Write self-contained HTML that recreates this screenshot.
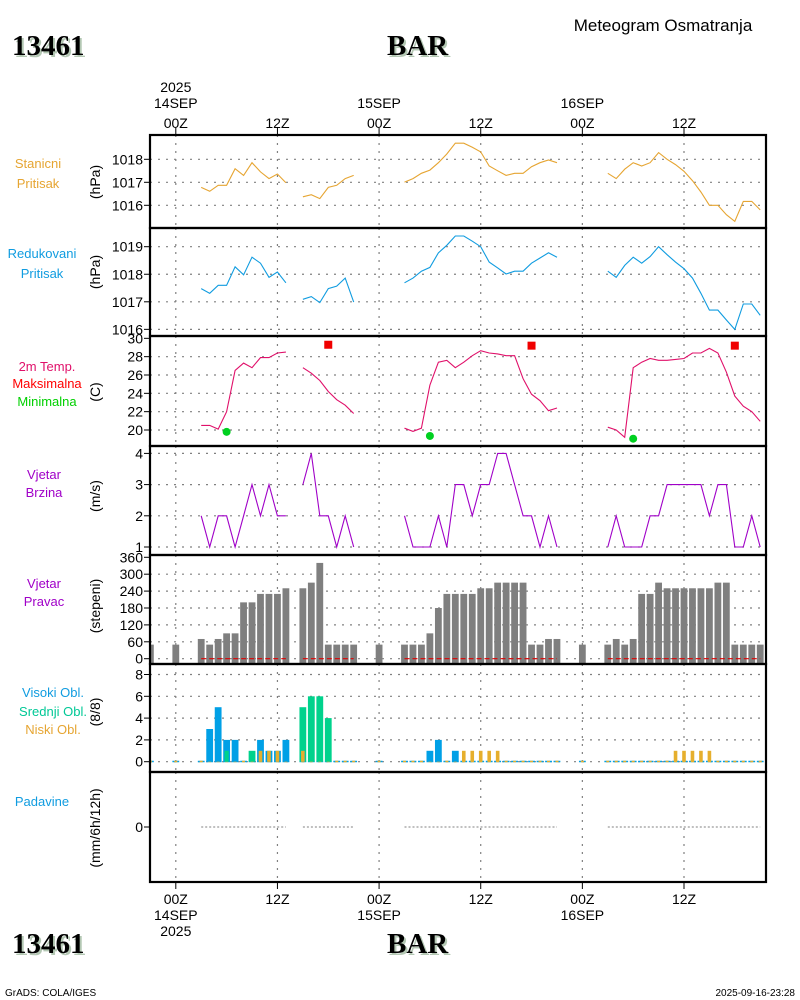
<!DOCTYPE html>
<html><head><meta charset="utf-8"><title>Meteogram</title>
<style>
html,body{margin:0;padding:0;background:#fff;}
svg{display:block;font-family:"Liberation Sans",sans-serif;}
.t{font-size:14px;fill:#000;}
.lab{font-size:13px;text-anchor:middle;}
.ttl{font-family:"Liberation Serif",serif;font-weight:bold;font-size:29px;}
</style></head>
<body>
<svg id="chart" width="800" height="1000" viewBox="0 0 800 1000" xmlns="http://www.w3.org/2000/svg">
<g id="static">
<text x="663" y="31" text-anchor="middle" style="font-size:17px">Meteogram Osmatranja</text>
<g><text class="ttl" x="14" y="57" fill="#b4c8b4">13461</text><text class="ttl" x="12" y="55">13461</text></g>
<g><text class="ttl" x="389" y="57" fill="#b4c8b4">BAR</text><text class="ttl" x="387" y="55">BAR</text></g>
<g><text class="ttl" x="14" y="955" fill="#b4c8b4">13461</text><text class="ttl" x="12" y="953">13461</text></g>
<g><text class="ttl" x="389" y="955" fill="#b4c8b4">BAR</text><text class="ttl" x="387" y="953">BAR</text></g>
<text x="5" y="996" style="font-size:10px">GrADS: COLA/IGES</text>
<text x="795" y="996" text-anchor="end" style="font-size:10px">2025-09-16-23:28</text>

<text class="lab" x="38" y="168" fill="#e6a532"><tspan x="38">Stanicni</tspan><tspan x="38" dy="20">Pritisak</tspan></text>
<text class="lab" x="42" y="258" fill="#109ce0"><tspan x="42">Redukovani</tspan><tspan x="42" dy="20">Pritisak</tspan></text>
<text class="lab" x="47" y="371" fill="#e0106a">2m Temp.</text>
<text class="lab" x="47" y="388" fill="#ff0000">Maksimalna</text>
<text class="lab" x="47" y="406" fill="#00d000">Minimalna</text>
<text class="lab" x="44" y="479" fill="#a000c8"><tspan x="44">Vjetar</tspan><tspan x="44" dy="18">Brzina</tspan></text>
<text class="lab" x="44" y="588" fill="#a000c8"><tspan x="44">Vjetar</tspan><tspan x="44" dy="18">Pravac</tspan></text>
<text class="lab" x="53" y="697" fill="#109ce0">Visoki Obl.</text>
<text class="lab" x="53" y="716" fill="#00c896">Srednji Obl.</text>
<text class="lab" x="53" y="734" fill="#e6a532">Niski Obl.</text>
<text class="lab" x="42" y="806" fill="#109ce0">Padavine</text>
</g>
<g id="dyn"></g>
</svg>
<script>
// ---- data ----
const hours = [3,4,5,6,7,8,9,10,11,12,13, 15,16,17,18,19,20,21, 27,28,29,30,31,32,33,34,35,36,37,38,39,40,41,42,43,44,45, 51,52,53,54,55,56,57,58,59,60,61,62,63,64,65,66,67,68,69];
const stationPressure = [1016.78,1016.61,1016.87,1016.87,1017.59,1017.30,1017.85,1017.45,1017.16,1017.36,1016.98,
 1016.37,1016.46,1016.29,1016.78,1016.87,1017.16,1017.30,
 1017.01,1017.16,1017.39,1017.53,1017.85,1018.23,1018.70,1018.70,1018.52,1018.32,1017.71,1017.50,1017.30,1017.39,1017.39,1017.68,1017.85,1017.97,1017.85,
 1017.39,1017.16,1017.57,1017.85,1017.71,1017.85,1018.29,1018.0,1017.77,1017.48,1017.07,1016.58,1016.0,1016.0,1015.59,1015.30,1016.17,1016.17,1015.80];
const reducedPressure = [1017.48,1017.31,1017.60,1017.60,1018.27,1017.98,1018.62,1018.40,1017.89,1018.08,1017.69,
 1017.09,1017.19,1016.97,1017.48,1017.57,1017.86,1016.99,
 1017.69,1017.86,1018.11,1018.25,1018.78,1019.05,1019.39,1019.39,1019.20,1019.0,1018.44,1018.23,1018.01,1018.11,1018.11,1018.40,1018.59,1018.78,1018.62,
 1018.11,1017.89,1018.32,1018.62,1018.40,1018.64,1019.0,1018.71,1018.44,1018.20,1017.86,1017.31,1016.70,1016.70,1016.34,1016.0,1016.92,1016.92,1016.51];
const temperature = [20.5,20.5,20.1,22.0,26.5,27.3,26.8,27.9,27.9,28.4,28.5,
 26.8,26.2,25.4,24.2,23.3,22.7,21.8,
 20.2,19.85,20.2,24.9,27.4,27.6,26.8,27.4,28.1,28.65,28.4,28.3,28.1,28.1,25.6,23.9,23.2,22.1,22.4,
 20.3,20.0,19.2,26.8,27.4,27.8,27.6,27.6,27.7,27.8,28.4,28.4,28.9,28.4,26.3,23.7,22.6,22.0,20.95];
const windSpeed = [2,1,2,2,1,2,3,2,3,2,2,
 3,4,2,2,1,2,1,
 2,1,1,1,2,1,3,3,2,3,3,4,4,3,2,2,1,2,1,
 1,2,1,1,1,2,2,3,3,3,3,3,2,3,3,1,1,2,1];
const dirHours = [-3,0,3,4,5,6,7,8,9,10,11,12,13, 15,16,17,18,19,20,21, 24, 27,28,29,30,31,32,33,34,35,36,37,38,39,40,41,42,43,44,45, 48, 51,52,53,54,55,56,57,58,59,60,61,62,63,64,65,66,67,68,69];
const windDir = [50,50, 70,50,70,90,90,200,200,230,230,230,250,
 250,270,340,50,50,50,50, 50,
 50,50,50,90,180,230,230,230,230,250,250,270,270,270,270,50,50,70,70, 50,
 50,70,50,70,230,230,270,250,250,250,250,250,250,270,270,50,50,50,50];
const highCloud = [0,3,5,2,2,0,0,2,1,1,2, 1,0,0,0,0,0,0,
 0,0,0,1,2,0,1,0,0,0,0,0,0,0,0,0,0,0,0, 0,0,0,0,0,0,0,0,0,0,0,0,0,0,0,0,0,0,0];
const midCloud = [0,0,0,1,0,0,1,0,0,0,0, 5,6,6,4,0,0,0,
 0,0,0,0,0,0,0,0,0,0,0,0,0,0,0,0,0,0,0, 0,0,0,0,0,0,0,0,0,0,0,0,0,0,0,0,0,0,0];
const lowCloud = [0,0,0,0,0,0,0,1,1,1,0, 1,0,0,0,0,0,0,
 0,0,0,0,0,0,0,1,1,1,1,1,0,0,0,0,0,0,0, 0,0,0,0,0,0,0,0,1,1,1,1,1,0,0,0,0,0,0];
const maxHours = [18,42,66];
const maxTemp = [29.3,29.2,29.2];
const minHours = [6,30,54];
const minTemp = [19.8,19.35,19.05];
const precip = hours.map(()=>0);
const timeTickHours = [0,12,24,36,48,60];
const timeTickLabels = ["00Z","12Z","00Z","12Z","00Z","12Z"];
const dayLabels = ["14SEP","","15SEP","","16SEP",""];
const spTicks = [1018,1017,1016];
const rpTicks = [1019,1018,1017,1016];
const tTicks = [30,28,26,24,22,20];
const wsTicks = [4,3,2,1];
const wdTicks = [360,300,240,180,120,60,0];
const clTicks = [8,6,4,2,0];

// ---- scales ----
const X0=150, X1=766;
const x = h => 175.8 + h*8.47;
const ySP = v => 159.3 + (1018 - v)*23;
const yRP = v => 246.7 + (1019 - v)*27.55;
const yT = v => 430 - (v-20)*9.167;
const yWS = v => 547 - (v-1)*31.2;
const yWD = v => 658.7 - v*0.2817;
const yCL = v => 761.7 - v*10.9;
const yPR = v => 827 - v*10;
const panels = [[135,228],[228,336],[336,446],[446,555],[555,664],[664,772],[772,882]];

const NS="http://www.w3.org/2000/svg";
const g=document.getElementById('dyn');
function mk(tag, attrs, parent){const e=document.createElementNS(NS,tag);for(const k in attrs)e.setAttribute(k,attrs[k]);(parent||g).appendChild(e);return e;}

const defs=mk('defs',{});
const cp=mk('clipPath',{id:'plotclip'},defs);
mk('rect',{x:X0,y:135,width:X1-X0,height:747},cp);

panels.forEach(([a,b])=>{
  timeTickHours.forEach(h=>{
    const l=mk('line',{x1:x(h),x2:x(h),y1:a,y2:b,stroke:'#808080','stroke-width':1.2,'stroke-dasharray':'2,6'});
    
    
  });
});
function hgrid(ticks, yf, name, skipTop){
  ticks.forEach(v=>{
    if(skipTop && v===ticks[0]) return;
    const l=mk('line',{x1:X0,x2:X1,y1:yf(v),y2:yf(v),stroke:'#808080','stroke-width':1.2,'stroke-dasharray':'2,6'});
    
    
  });
}
hgrid(spTicks,ySP,'station-pressure');
hgrid(rpTicks,yRP,'reduced-pressure');
hgrid(tTicks,yT,'temperature',true);
hgrid(wsTicks,yWS,'wind-speed');
hgrid(wdTicks,yWD,'wind-direction',true);
hgrid(clTicks,yCL,'cloud');

function yticks(ticks, yf, name){
  ticks.forEach(v=>{
    const t=mk('text',{x:143,y:yf(v)+5,'text-anchor':'end',class:'t'});
    t.textContent=String(v);
    
    
    mk('line',{x1:144,x2:150,y1:yf(v),y2:yf(v),stroke:'#000','stroke-width':1});
  });
}
yticks(spTicks,ySP,'station-pressure');
yticks(rpTicks,yRP,'reduced-pressure');
yticks(tTicks,yT,'temperature');
yticks(wsTicks,yWS,'wind-speed');
yticks(wdTicks,yWD,'wind-direction');
yticks(clTicks,yCL,'cloud');
yticks([0],yPR,'precip');

function ytitle(txt,cy,name){
  const t=mk('text',{x:0,y:0,class:'t','text-anchor':'middle',transform:`translate(100,${cy}) rotate(-90)`});
  t.textContent=txt;
  
  
}
ytitle('(hPa)',182,'station-pressure-axis-title');
ytitle('(hPa)',272,'reduced-pressure-axis-title');
ytitle('(C)',392,'temperature-axis-title');
ytitle('(m/s)',496,'wind-speed-axis-title');
ytitle('(stepeni)',606,'wind-direction-axis-title');
ytitle('(8/8)',712,'cloud-axis-title');
ytitle('(mm/6h/12h)',828,'precip-axis-title');

timeTickHours.forEach((h,i)=>{
  mk('line',{x1:x(h),x2:x(h),y1:128,y2:135,stroke:'#000'});
  mk('line',{x1:x(h),x2:x(h),y1:882,y2:889,stroke:'#000'});
  const t=mk('text',{x:x(h),y:128,'text-anchor':'middle',class:'t'});
  t.textContent=timeTickLabels[i];
  
  
  const b=mk('text',{x:x(h),y:904,'text-anchor':'middle',class:'t'});
  b.textContent=timeTickLabels[i];
  
  
  if(dayLabels[i]){
    const d=mk('text',{x:x(h),y:108,'text-anchor':'middle',class:'t'});
    d.textContent=dayLabels[i];
    
    
    const d2=mk('text',{x:x(h),y:920,'text-anchor':'middle',class:'t'});
    d2.textContent=dayLabels[i];
    
    
  }
});
const yr1=mk('text',{x:x(0),y:92,'text-anchor':'middle',class:'t'});yr1.textContent='2025';


const yr2=mk('text',{x:x(0),y:936,'text-anchor':'middle',class:'t'});yr2.textContent='2025';



const plot=mk('g',{'clip-path':'url(#plotclip)'});

dirHours.forEach((h,i)=>{
  const r=mk('rect',{x:x(h)-3.4,y:yWD(windDir[i]),width:6.8,height:664-yWD(windDir[i]),fill:'#7f7f7f'},plot);
  
  
});

function segments(){
  const segs=[];let cur=[];
  hours.forEach((h,i)=>{ if(cur.length && h-hours[cur[cur.length-1]]>1){segs.push(cur);cur=[];} cur.push(i);});
  if(cur.length)segs.push(cur);return segs;
}
const segs=segments();
function drawLine(vals,yf,color,name,w){
  segs.forEach(s=>{
    const d=s.map((i,k)=>(k?'L':'M')+x(hours[i]).toFixed(1)+','+yf(vals[i]).toFixed(1)).join(' ');
    const p=mk('path',{d:d,fill:'none',stroke:color,'stroke-width':w||1.1},plot);
    
    
  });
}
segs.forEach(s=>{
  const l=mk('line',{x1:x(hours[s[0]]),x2:x(hours[s[s.length-1]]),y1:658.7,y2:658.7,stroke:'#e00000','stroke-width':1.2,'stroke-dasharray':'5,3'},plot);
  
  
});
drawLine(stationPressure,ySP,'#e6a532','station-pressure-line');
drawLine(reducedPressure,yRP,'#109ce0','reduced-pressure-line');
drawLine(temperature,yT,'#e0106a','temperature-line');
drawLine(windSpeed,yWS,'#a000c8','wind-speed-line');
segs.forEach(s=>{
  const d=s.map((i,k)=>(k?'L':'M')+x(hours[i]).toFixed(1)+','+yPR(precip[i]).toFixed(1)).join(' ');
  const p=mk('path',{d:d,fill:'none',stroke:'#808080','stroke-width':1,'stroke-dasharray':'2,2'},plot);
  
  
});

maxHours.forEach((h,i)=>{
  const r=mk('rect',{x:x(h)-4,y:yT(maxTemp[i])-4,width:8,height:8,fill:'#f00000'},plot);
  
  
});
minHours.forEach((h,i)=>{
  const c=mk('circle',{cx:x(h),cy:yT(minTemp[i]),r:4,fill:'#00d020'},plot);
  
  
});

const cloudCols={high:'#00a0e6',mid:'#00d28c',low:'#e6af2d'};
dirHours.forEach(h=>{
  mk('line',{x1:x(h)-3.4,x2:x(h)+3.4,y1:761.5,y2:761.5,stroke:'#00a0e6','stroke-width':1.5},plot);
  mk('line',{x1:x(h)-1.5,x2:x(h)+1.5,y1:761.5,y2:761.5,stroke:'#e6af2d','stroke-width':1.5},plot);
});
hours.forEach((h,i)=>{
  const items=[['high',highCloud[i]],['mid',midCloud[i]],['low',lowCloud[i]]].filter(a=>a[1]>0).sort((a,b)=>b[1]-a[1]);
  items.forEach((it,k)=>{
    let w = it[0]==='low' ? 3.6 : (k===0 ? 6.8 : 4.2);
    if(it[0]!=='low' && k>0 && items[0][1]===it[1]) w=6.8;
    const r=mk('rect',{x:x(h)-w/2,y:yCL(it[1]),width:w,height:761.7-yCL(it[1]),fill:cloudCols[it[0]]},plot);
    
    
  });
});

panels.forEach(([a,b],i)=>{
  const r=mk('rect',{x:X0,y:a,width:X1-X0,height:b-a,fill:'none',stroke:'#000','stroke-width':2.2});
  
  
});
</script>
</body></html>
